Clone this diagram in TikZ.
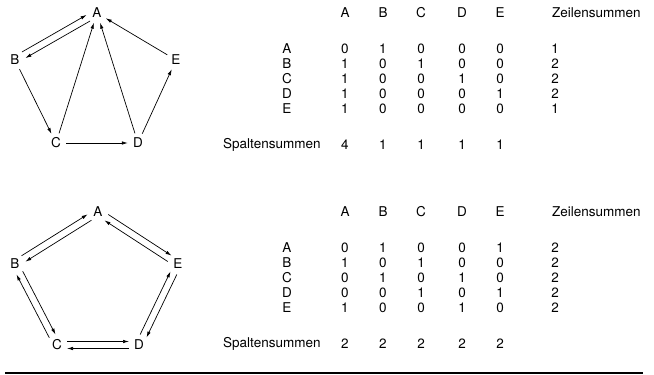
\documentclass[tikz,border=0pt]{standalone}
\usepackage{fontspec}
\setmainfont{TeX Gyre Heros}
\usepackage{tikz}
\usetikzlibrary{calc,arrows.meta}

% column positions: A..E, then the row sum
\def\colxs{{345,383,421,462,500,555}}

% table of one graph: #1 name, #2 y of the header, #3 rows, #4 column sums
\newcommand{\adjtable}[4]{%
  \foreach \c [count=\i] in {A,B,C,D,E} {
    \pgfmathsetmacro{\xx}{\colxs[\i-1]}
    \node (#1-h\i) at (\xx,#2) {\c};
  }
  \node[anchor=west] (#1-zs) at (551,#2) {Zeilensummen};
  \foreach \r/\vals [count=\j] in {#3} {
    \node (#1-\r) at (287,{#2+36+15*(\j-1)}) {\r};
    \foreach \v [count=\i] in \vals {
      \pgfmathsetmacro{\xx}{\colxs[\i-1]}
      \node (#1-\r\i) at (\xx,{#2+36+15*(\j-1)}) {\v};
    }
  }
  \node[anchor=west] (#1-ss) at (222,{#2+132}) {Spaltensummen};
  \foreach \v [count=\i] in {#4} {
    \pgfmathsetmacro{\xx}{\colxs[\i-1]}
    \node (#1-s\i) at (\xx,{#2+132}) {\v};
  }
}

% two arrows side by side between #1 and #2
\newcommand{\twoway}[2]{%
  \draw[arr,shorten <=10pt,shorten >=10pt] ($(#1)!3.5pt!90:(#2)$) -- ($(#2)!3.5pt!-90:(#1)$);
  \draw[arr,shorten <=10pt,shorten >=10pt] ($(#2)!3.5pt!90:(#1)$) -- ($(#1)!3.5pt!-90:(#2)$);
}

\begin{document}
\begin{tikzpicture}[x=1pt,y=-1pt]
\tikzstyle{every node}=[font=\fontsize{13.5}{16}\selectfont,inner sep=1pt]
\tikzstyle{vertex}=[circle,minimum size=20pt,inner sep=0pt]
\tikzstyle{arr}=[-{Latex[length=6pt,width=3.5pt]},line width=0.7pt]
\useasboundingbox (0,0) rectangle (654,375);

% upper graph
\node[vertex] (A1) at (97,13) {A};
\node[vertex] (B1) at (15,60) {B};
\node[vertex] (E1) at (176,60) {E};
\node[vertex] (C1) at (56,143) {C};
\node[vertex] (D1) at (138,143) {D};
\twoway{A1}{B1}
\draw[arr] (B1) -- (C1);
\draw[arr] (C1) -- (A1);
\draw[arr] (C1) -- (D1);
\draw[arr] (D1) -- (A1);
\draw[arr] (D1) -- (E1);
\draw[arr] (E1) -- (A1);

\adjtable{t1}{13}{A/{0,1,0,0,0,1},B/{1,0,1,0,0,2},C/{1,0,0,1,0,2},D/{1,0,0,0,1,2},E/{1,0,0,0,0,1}}{4,1,1,1,1}

% lower graph
\node[vertex] (A2) at (98,212) {A};
\node[vertex] (B2) at (15,264) {B};
\node[vertex] (E2) at (178,264) {E};
\node[vertex] (C2) at (57,345) {C};
\node[vertex] (D2) at (139,345) {D};
\twoway{A2}{B2}
\twoway{B2}{C2}
\twoway{C2}{D2}
\twoway{D2}{E2}
\twoway{E2}{A2}

\adjtable{t2}{212}{A/{0,1,0,0,1,2},B/{1,0,1,0,0,2},C/{0,1,0,1,0,2},D/{0,0,1,0,1,2},E/{1,0,0,1,0,2}}{2,2,2,2,2}

\draw[line width=2pt] (5,373) -- (643,373);
\end{tikzpicture}
\end{document}
